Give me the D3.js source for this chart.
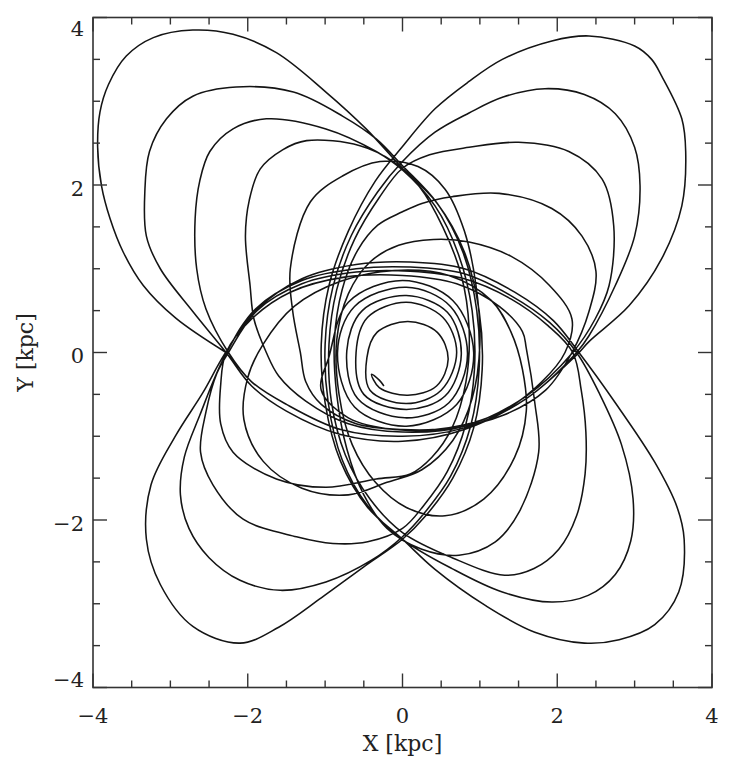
<!DOCTYPE html>
<html><head><meta charset="utf-8">
<script src="https://cdn.jsdelivr.net/npm/d3@7"></script>
<style>body{margin:0;background:#fff}</style>
</head><body><svg id="c" width="740" height="768"></svg>
<script>
// axis values
const xDomain = [-4, 4];
const yDomain = [-4, 4];
const majorTicks = [-4, -2, 0, 2, 4];
const minorTicks = [-3.5, -3, -2.5, -1.5, -1, -0.5, 0.5, 1, 1.5, 2.5, 3, 3.5];
const tickLabels = ["\u22124", "\u22122", "0", "2", "4"];
const xTitle = "X [kpc]";
const yTitle = "Y [kpc]";

// orbit (x, y in kpc), in order along the track
// cycle 1
const capNW1 = [[-2.28,0.00],[-2.93,0.41],[-3.35,0.80],[-3.61,1.20],[-3.78,1.60],[-3.89,1.99],[-3.94,2.45],[-3.91,2.87],[-3.80,3.20],[-3.57,3.54],[-3.22,3.76],[-2.71,3.85],[-2.19,3.80],[-1.63,3.58],[-0.99,3.11],[-0.47,2.67],[-0.03,2.23]];
const arcE1 = [[0.45,1.78],[0.80,1.20],[0.99,0.50],[1.03,-0.20],[0.92,-0.90],[0.65,-1.50],[0.30,-1.95]];
const capSW1 = [[0.00,-2.23],[-0.50,-2.56],[-1.05,-2.93],[-1.60,-3.28],[-2.10,-3.47],[-2.71,-3.27],[-3.13,-2.77],[-3.31,-2.23],[-3.25,-1.58],[-2.93,-0.99],[-2.58,-0.48],[-2.30,-0.02]];
const arcN1 = [[-1.90,0.50],[-1.30,0.88],[-0.60,1.05],[0.10,1.08],[0.80,1.00],[1.45,0.72],[1.95,0.38]];
const capSE1 = [[2.28,0.00],[2.75,-0.60],[3.26,-1.31],[3.55,-1.85],[3.64,-2.23],[3.57,-2.86],[3.26,-3.25],[2.80,-3.43],[2.35,-3.47],[1.71,-3.34],[1.07,-3.02],[0.42,-2.59],[0.00,-2.23]];
const arcW1 = [[-0.45,-1.85],[-0.80,-1.30],[-1.00,-0.60],[-1.05,0.10],[-0.95,0.80],[-0.70,1.45],[-0.35,2.05]];
const capNE1 = [[0.00,2.46],[0.42,2.91],[0.85,3.23],[1.29,3.50],[1.93,3.72],[2.41,3.78],[3.00,3.66],[3.22,3.50],[3.35,3.30],[3.61,2.79],[3.66,2.40],[3.61,1.75],[3.35,1.12],[2.93,0.56],[2.41,0.13],[2.26,-0.02]];
const arcS1 = [[1.60,-0.55],[0.80,-0.92],[0.00,-1.06],[-0.80,-0.98],[-1.50,-0.70],[-1.95,-0.40]];
// cycle 2
const capNW2 = [[-2.28,0.00],[-2.71,0.49],[-3.13,1.00],[-3.31,1.39],[-3.33,1.92],[-3.27,2.40],[-3.05,2.79],[-2.71,3.06],[-2.15,3.17],[-1.41,3.11],[-0.77,2.82],[-0.34,2.55],[0.00,2.23]];
const arcE2 = [[0.45,1.78],[0.78,1.20],[0.96,0.50],[0.99,-0.20],[0.88,-0.88],[0.62,-1.48],[0.28,-1.92]];
const capSW2 = [[0.00,-2.20],[-0.40,-2.48],[-0.99,-2.74],[-1.58,-2.84],[-2.10,-2.72],[-2.50,-2.45],[-2.76,-2.10],[-2.87,-1.70],[-2.82,-1.25],[-2.62,-0.75],[-2.30,-0.05]];
const arcN2 = [[-1.90,0.52],[-1.30,0.86],[-0.60,1.00],[0.10,1.02],[0.80,0.94],[1.40,0.68],[1.90,0.36]];
const capSE2 = [[2.25,0.00],[2.55,-0.50],[2.83,-1.10],[2.98,-1.75],[2.95,-2.25],[2.75,-2.65],[2.40,-2.90],[1.93,-2.98],[1.29,-2.86],[0.64,-2.58],[0.00,-2.23]];
const arcW2 = [[-0.45,-1.83],[-0.78,-1.28],[-0.96,-0.60],[-1.00,0.10],[-0.90,0.78],[-0.66,1.40],[-0.32,1.92]];
const capNE2 = [[0.00,2.28],[0.42,2.63],[0.86,2.86],[1.30,3.05],[1.84,3.15],[2.35,3.08],[2.75,2.85],[3.00,2.45],[3.07,1.99],[3.00,1.39],[2.75,0.80],[2.41,0.20],[2.25,0.00]];
const arcS2 = [[1.60,-0.55],[0.80,-0.90],[0.00,-1.00],[-0.80,-0.92],[-1.50,-0.62],[-1.95,-0.35]];
// cycle 3
const capNW3 = [[-2.25,0.00],[-2.54,0.52],[-2.66,1.00],[-2.68,1.60],[-2.62,2.05],[-2.49,2.40],[-2.19,2.67],[-1.76,2.79],[-0.99,2.67],[-0.34,2.40],[0.00,2.18]];
const arcE3 = [[0.42,1.75],[0.72,1.18],[0.90,0.50],[0.93,-0.20],[0.82,-0.85],[0.58,-1.42],[0.28,-1.82]];
const capSW3 = [[0.00,-2.10],[-0.45,-2.26],[-0.90,-2.28],[-1.37,-2.20],[-2.06,-1.99],[-2.45,-1.58],[-2.61,-1.19],[-2.54,-0.71],[-2.40,-0.25],[-2.25,0.00]];
const arcN3 = [[-1.88,0.50],[-1.30,0.82],[-0.60,0.96],[0.10,0.97],[0.80,0.88],[1.40,0.64],[1.88,0.32]];
const capSE3 = [[2.20,0.00],[2.31,-0.45],[2.37,-0.95],[2.36,-1.45],[2.25,-1.95],[2.02,-2.35],[1.70,-2.58],[1.32,-2.66],[0.64,-2.45],[0.00,-2.15]];
const arcW3 = [[-0.42,-1.75],[-0.74,-1.22],[-0.92,-0.58],[-0.95,0.10],[-0.85,0.75],[-0.62,1.35],[-0.30,1.85]];
const capNE3 = [[0.00,2.20],[0.35,2.36],[0.86,2.45],[1.50,2.51],[2.15,2.40],[2.58,2.07],[2.73,1.51],[2.67,0.80],[2.49,0.40],[2.20,0.00]];
const arcS3 = [[1.60,-0.52],[0.80,-0.88],[0.00,-0.95],[-0.70,-0.85],[-1.25,-0.58],[-1.60,-0.28]];
// cycle 4
const capNW4 = [[-1.76,0.00],[-1.92,0.40],[-1.97,0.80],[-2.03,1.39],[-1.98,1.82],[-1.84,2.19],[-1.55,2.42],[-1.24,2.53],[-0.55,2.47],[-0.12,2.28]];
const arcE4 = [[0.22,1.98],[0.52,1.50],[0.76,0.92],[0.86,0.30],[0.82,-0.35],[0.64,-0.90],[0.38,-1.25]];
const capSW4 = [[0.10,-1.45],[-0.34,-1.51],[-0.99,-1.61],[-1.63,-1.51],[-2.19,-1.19],[-2.35,-0.85],[-2.35,-0.39],[-2.28,0.00]];
const arcN4 = [[-1.95,0.40],[-1.45,0.72],[-0.75,0.90],[0.00,0.92],[0.70,0.82],[1.25,0.55],[1.55,0.25]];
const capSE4 = [[1.60,0.05],[1.71,-0.60],[1.76,-1.19],[1.51,-1.90],[1.20,-2.26],[0.73,-2.42],[0.25,-2.35],[-0.20,-2.10]];
const arcW4 = [[-0.50,-1.70],[-0.72,-1.15],[-0.85,-0.50],[-0.88,0.15],[-0.78,0.75],[-0.58,1.22],[-0.32,1.52]];
const capNE4 = [[0.00,1.68],[0.25,1.78],[0.64,1.86],[1.25,1.90],[1.93,1.72],[2.32,1.39],[2.50,0.97],[2.41,0.49],[2.19,0.00]];
const arcS4 = [[1.85,-0.45],[1.30,-0.75],[0.65,-0.90],[0.00,-0.92],[-0.60,-0.85],[-1.05,-0.62],[-1.25,-0.35]];
// cycle 5
const capNW5 = [[-1.32,0.00],[-1.42,0.50],[-1.45,1.00],[-1.19,1.80],[-0.77,2.11],[-0.29,2.28],[0.20,2.22],[0.55,1.95]];
const arcE5 = [[0.80,1.45],[0.95,0.80],[1.00,0.10],[0.90,-0.55],[0.65,-1.05],[0.25,-1.40]];
const capSW5 = [[-0.20,-1.55],[-0.70,-1.70],[-1.30,-1.62],[-1.80,-1.30],[-2.05,-0.80],[-2.00,-0.30],[-1.80,0.10]];
const arcN5 = [[-1.40,0.55],[-0.80,0.85],[-0.10,0.98],[0.60,0.92],[1.15,0.62],[1.40,0.25]];
const capSE5 = [[1.55,-0.20],[1.60,-0.70],[1.45,-1.25],[1.05,-1.75],[0.55,-1.95],[0.05,-1.85],[-0.35,-1.55]];
const arcW5 = [[-0.65,-1.10],[-0.82,-0.50],[-0.85,0.15],[-0.70,0.70],[-0.42,1.08]];
const capNE5 = [[-0.05,1.28],[0.40,1.35],[0.86,1.32],[1.40,1.15],[1.90,0.80],[2.19,0.40],[2.10,0.00],[1.80,-0.35]];
const arcS5 = [[1.30,-0.70],[0.60,-0.90],[-0.10,-0.92],[-0.70,-0.78],[-1.05,-0.45]];
// inner, nearly circular loops
const coreA = [[-0.95,-0.05],[-0.70,0.60],[0.00,0.86],[0.65,0.62],[0.92,0.00],[0.70,-0.62],[0.05,-0.88],[-0.62,-0.65]];
const coreB = [[-0.84,0.00],[-0.62,0.55],[0.05,0.78],[0.62,0.55],[0.84,-0.02],[0.60,-0.60],[0.03,-0.78],[-0.58,-0.55]];
const coreC = [[-0.72,0.02],[-0.52,0.50],[0.05,0.68],[0.58,0.48],[0.76,-0.02],[0.55,-0.52],[0.05,-0.68],[-0.50,-0.50]];
const coreD = [[-0.60,0.00],[-0.45,0.42],[0.05,0.60],[0.52,0.42],[0.70,0.00],[0.50,-0.45],[0.05,-0.61],[-0.42,-0.45]];
const coreE = [[-0.46,-0.06],[-0.33,0.24],[0.07,0.37],[0.45,0.24],[0.59,-0.08],[0.44,-0.40],[0.07,-0.51],[-0.30,-0.42]];
const orbitEnd = [[-0.40,-0.26],[-0.30,-0.33],[-0.24,-0.40]];

const orbit = [].concat(
  capNW1, arcE1, capSW1, arcN1, capSE1, arcW1, capNE1, arcS1,
  capNW2, arcE2, capSW2, arcN2, capSE2, arcW2, capNE2, arcS2,
  capNW3, arcE3, capSW3, arcN3, capSE3, arcW3, capNE3, arcS3,
  capNW4, arcE4, capSW4, arcN4, capSE4, arcW4, capNE4, arcS4,
  capNW5, arcE5, capSW5, arcN5, capSE5, arcW5, capNE5, arcS5,
  coreA, coreB, coreC, coreD, coreE, orbitEnd);

(function () {
  const svg = d3.select("#c");
  const pL = 93, pR = 712, pT = 17.5, pB = 687.5;
  const x = d3.scaleLinear().domain(xDomain).range([pL, pR]);
  const y = d3.scaleLinear().domain(yDomain).range([pB, pT]);

  const line = d3.line().x(d => x(d[0])).y(d => y(d[1])).curve(d3.curveCatmullRom.alpha(0.5));
  svg.append("path").datum(orbit)
    .attr("d", line).attr("fill", "none").attr("stroke", "#141414").attr("stroke-width", 1.55)
    .attr("stroke-linejoin", "round");

  svg.append("rect").attr("x", pL).attr("y", pT).attr("width", pR - pL).attr("height", pB - pT)
    .attr("fill", "none").attr("stroke", "#333").attr("stroke-width", 1.6);

  const ticks = svg.append("g").attr("stroke", "#333").attr("stroke-width", 1.4);
  const allT = majorTicks.map(v => ({v, len: 14})).concat(minorTicks.map(v => ({v, len: 7})));
  allT.forEach(t => {
    ticks.append("line").attr("x1", x(t.v)).attr("x2", x(t.v)).attr("y1", pB).attr("y2", pB - t.len);
    ticks.append("line").attr("x1", x(t.v)).attr("x2", x(t.v)).attr("y1", pT).attr("y2", pT + t.len);
    ticks.append("line").attr("y1", y(t.v)).attr("y2", y(t.v)).attr("x1", pL).attr("x2", pL + t.len);
    ticks.append("line").attr("y1", y(t.v)).attr("y2", y(t.v)).attr("x1", pR).attr("x2", pR - t.len);
  });

  const font = "DejaVu Serif";
  majorTicks.forEach((v, i) => {
    svg.append("text").attr("x", x(v)).attr("y", pB + 35).attr("text-anchor", "middle")
      .attr("font-family", font).attr("font-size", 21).attr("fill", "#222").text(tickLabels[i]);
    const yy = Math.min(Math.max(y(v) + 3, pT + 11), pB - 8);
    svg.append("text").attr("x", pL - 9).attr("y", yy).attr("dy", "0.36em").attr("text-anchor", "end")
      .attr("font-family", font).attr("font-size", 21).attr("fill", "#222").text(tickLabels[i]);
  });
  svg.append("text").attr("x", (pL + pR) / 2).attr("y", 751).attr("text-anchor", "middle")
    .attr("font-family", font).attr("font-size", 22).attr("fill", "#222").text(xTitle);
  svg.append("text").attr("transform", `translate(33,${(pT + pB) / 2}) rotate(-90)`).attr("text-anchor", "middle")
    .attr("font-family", font).attr("font-size", 22).attr("fill", "#222").text(yTitle);
})();
</script></body></html>
